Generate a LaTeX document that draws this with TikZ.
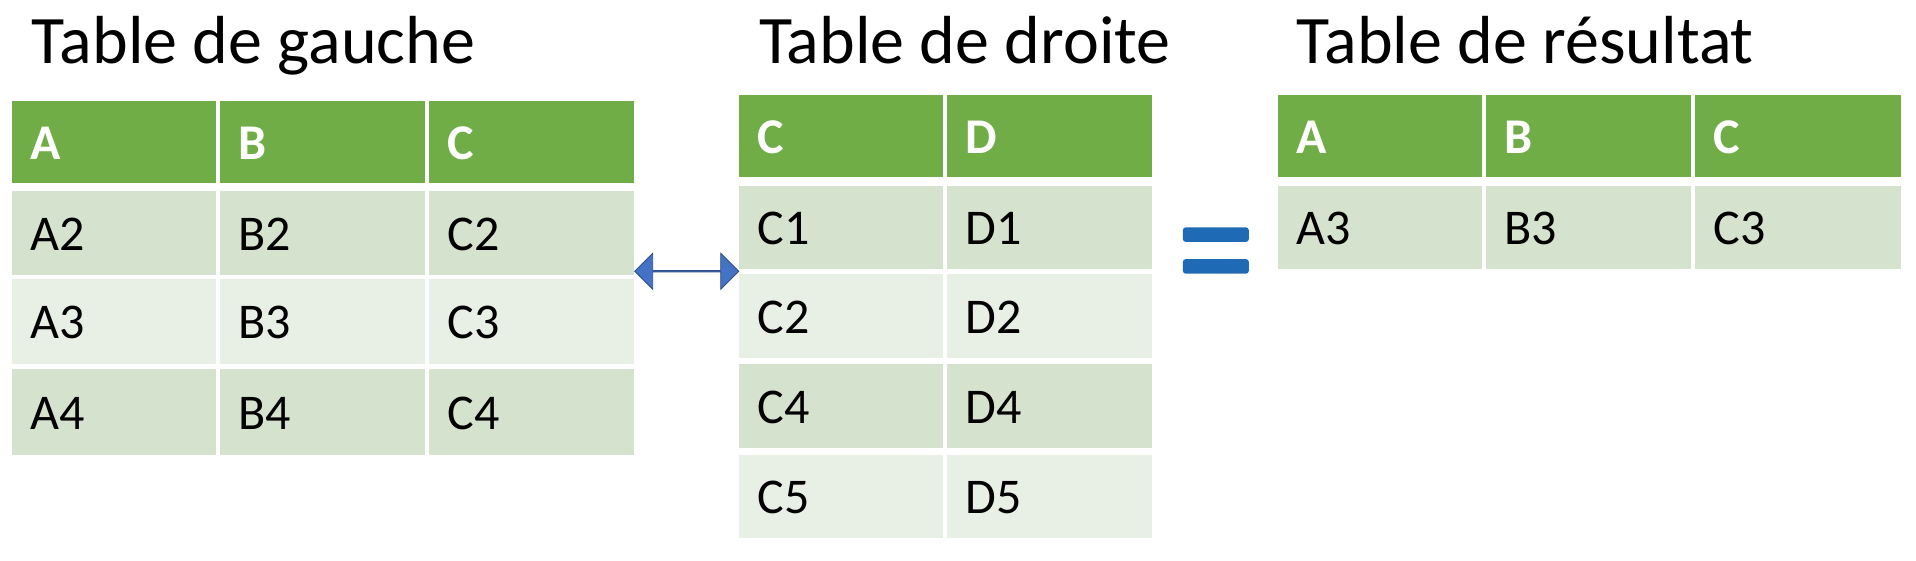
\documentclass[tikz,border=0pt]{standalone}
\usepackage{fontspec}
\setmainfont{Carlito}
\usetikzlibrary{shapes.arrows}
\definecolor{hdr}{HTML}{70AD47}
\definecolor{dk}{HTML}{D4E2CE}
\definecolor{lt}{HTML}{E8EFE5}
\definecolor{arr}{HTML}{4472C4}
\definecolor{eq}{HTML}{1F6AB4}
\newcommand{\mycell}[7]{%
  \fill[#6] (#2,#3) rectangle (#4,#5);
  \node[celltxt,#6 text] (#1) at ({#2+15},{(#3+#5)/2+1}) {#7};}
\tikzset{
  celltxt/.style={anchor=west,inner sep=0pt,font=\fontsize{50}{56}\selectfont},
  hdr text/.style={text=white,font=\fontsize{50}{56}\selectfont\bfseries},
  dk text/.style={text=black}, lt text/.style={text=black},
  title/.style={anchor=base west,inner sep=0pt,font=\fontsize{68}{74}\selectfont}
}
\begin{document}
\begin{tikzpicture}[x=1.222pt,y=-1.222pt]
\useasboundingbox (0,0) rectangle (1568,458.3);
\node[title] (t1) at (26,52) {Table de gauche};
\node[title] (t2) at (621,52) {Table de droite};
\node[title] (t3) at (1061,52) {Table de résultat};
% left table
\mycell{la}{10}{83}{177}{150}{hdr}{A}
\mycell{lb}{180}{83}{348}{150}{hdr}{B}
\mycell{lc}{351}{83}{519}{150}{hdr}{C}
\mycell{la2}{10}{156}{177}{225}{dk}{A2}
\mycell{lb2}{180}{156}{348}{225}{dk}{B2}
\mycell{lc2}{351}{156}{519}{225}{dk}{C2}
\mycell{la3}{10}{228}{177}{298}{lt}{A3}
\mycell{lb3}{180}{228}{348}{298}{lt}{B3}
\mycell{lc3}{351}{228}{519}{298}{lt}{C3}
\mycell{la4}{10}{302}{177}{372}{dk}{A4}
\mycell{lb4}{180}{302}{348}{372}{dk}{B4}
\mycell{lc4}{351}{302}{519}{372}{dk}{C4}
% right table
\mycell{rc}{605}{78}{772}{145}{hdr}{C}
\mycell{rd}{775}{78}{943}{145}{hdr}{D}
\mycell{rc1}{605}{152}{772}{220}{dk}{C1}
\mycell{rd1}{775}{152}{943}{220}{dk}{D1}
\mycell{rc2}{605}{224}{772}{293}{lt}{C2}
\mycell{rd2}{775}{224}{943}{293}{lt}{D2}
\mycell{rc4}{605}{298}{772}{367}{dk}{C4}
\mycell{rd4}{775}{298}{943}{367}{dk}{D4}
\mycell{rc5}{605}{372}{772}{440}{lt}{C5}
\mycell{rd5}{775}{372}{943}{440}{lt}{D5}
% result table
\mycell{sa}{1046}{78}{1213}{145}{hdr}{A}
\mycell{sb}{1216}{78}{1384}{145}{hdr}{B}
\mycell{sc}{1387}{78}{1556}{145}{hdr}{C}
\mycell{sa3}{1046}{152}{1213}{220}{dk}{A3}
\mycell{sb3}{1216}{152}{1384}{220}{dk}{B3}
\mycell{sc3}{1387}{152}{1556}{220}{dk}{C3}
% double arrow
\node[double arrow, fill=arr, draw=arr!70!black, line width=0.8pt, minimum width=36pt,
  double arrow head extend=11pt, minimum height=104pt, inner sep=0pt, anchor=center] (arrow) at (562,222) {};
% equals
\fill[eq, rounded corners=3pt] (968,186) rectangle (1022,198);
\fill[eq, rounded corners=3pt] (968,212) rectangle (1022,224);
\end{tikzpicture}
\end{document}
